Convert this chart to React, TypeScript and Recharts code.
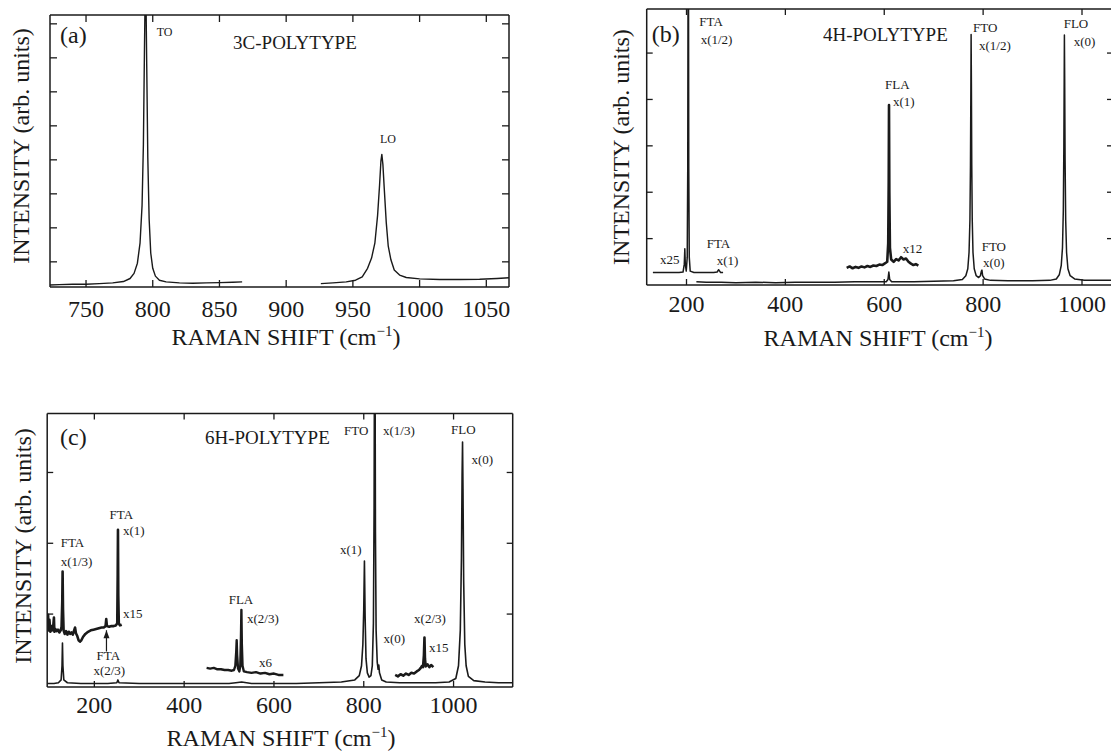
import React from 'react';
import { LineChart, Line, XAxis, YAxis } from 'recharts';

const INK = '#1a1a1a';
const SERIF = '"Liberation Serif", "Times New Roman", Times, serif';

type Pair = [number, number];
type Ann = { x: number; y: number; t: string };

// ---------------- (a) 3C-POLYTYPE ----------------
const aXTicks = [750, 800, 850, 900, 950, 1000, 1050];
const aYTicks = [0.74, 1.74, 2.74, 3.74, 4.74, 5.74, 6.74, 7.74];
const aToSegment: Pair[] = [
  [723, 0.06], [730, 0.07], [740, 0.08], [750, 0.08], [760, 0.1], [770, 0.12], [778, 0.16],
  [783, 0.25], [786, 0.4], [788.5, 0.7], [790.5, 1.3], [792, 2.4], [793, 4.2], [793.8, 7],
  [794.3, 8.6], [794.9, 8.6], [795.5, 6.5], [796.3, 3.8], [797.3, 2.0], [798.5, 1.0],
  [800, 0.55], [802, 0.32], [805, 0.2], [810, 0.15], [820, 0.12], [830, 0.11], [840, 0.12],
  [850, 0.13], [860, 0.14], [867, 0.15],
];
const aLoSegment: Pair[] = [
  [926, 0.1], [935, 0.12], [945, 0.15], [952, 0.2], [957, 0.3], [961, 0.55], [964, 0.85],
  [966.5, 1.3], [968.5, 2.1], [970, 3.0], [971, 3.7], [971.7, 3.9], [972.5, 3.6], [973.5, 2.9],
  [975, 1.9], [976.5, 1.2], [978.5, 0.8], [981, 0.5], [985, 0.35], [990, 0.28], [1000, 0.24],
  [1015, 0.22], [1030, 0.22], [1045, 0.23], [1058, 0.25], [1067, 0.27],
];
const aLetter: Ann[] = [{ x: 730.5, y: 7.41, t: '(a)' }];
const aTitle: Ann[] = [{ x: 860.2, y: 7.19, t: '3C-POLYTYPE' }];
const aPeakLabels: Ann[] = [
  { x: 803, y: 7.5, t: 'TO' },
  { x: 970.3, y: 4.35, t: 'LO' },
];

// ---------------- (b) 4H-POLYTYPE ----------------
const bXTicks = [200, 400, 600, 800, 1000];
const bYTicks = [1, 2, 3, 4, 5];
const bMain: Pair[] = [
  [220, 0.07], [240, 0.06], [270, 0.06], [300, 0.05], [340, 0.06], [380, 0.05], [420, 0.06],
  [460, 0.06], [500, 0.06], [540, 0.07], [580, 0.07], [604, 0.07], [607.5, 0.12], [609.3, 0.28],
  [611, 0.12], [615, 0.07], [660, 0.07], [700, 0.08], [740, 0.09], [758, 0.12], [765, 0.2],
  [769, 0.35], [771.5, 0.7], [773.3, 1.4], [774.4, 2.6], [775.2, 4.2], [775.7, 5.4], [776.3, 4.3],
  [777, 2.6], [778, 1.4], [779.5, 0.7], [782, 0.35], [786, 0.2], [791, 0.16], [794.5, 0.2],
  [796.5, 0.3], [797.6, 0.32], [799, 0.2], [803, 0.13], [815, 0.1], [850, 0.09], [900, 0.09],
  [935, 0.1], [948, 0.13], [954, 0.22], [958, 0.42], [960.5, 0.8], [962.2, 1.6], [963.3, 3.0],
  [964, 4.5], [964.4, 5.39], [965, 4.4], [965.8, 2.7], [967, 1.4], [968.8, 0.7], [971.5, 0.35],
  [976, 0.2], [985, 0.13], [1005, 0.1], [1030, 0.1], [1062, 0.1],
];
const bX25: Pair[] = [
  [132, 0.27], [150, 0.27], [170, 0.27], [185, 0.27], [193, 0.28], [195.5, 0.45], [196.6, 0.78],
  [197.6, 0.45], [199.5, 0.3], [201.5, 0.6], [202.5, 2.5], [203.2, 7], [204, 7], [204.6, 2.5],
  [205.6, 0.6], [207.5, 0.3], [215, 0.27], [235, 0.27], [255, 0.27], [262, 0.28], [265, 0.33],
  [267, 0.3], [269, 0.27], [274, 0.27],
];
const bX12: Pair[] = [
  [524, 0.37], [530, 0.4], [536, 0.36], [542, 0.39], [548, 0.37], [554, 0.4], [560, 0.38],
  [566, 0.41], [572, 0.39], [578, 0.42], [584, 0.41], [590, 0.44], [596, 0.43], [602, 0.47],
  [606, 0.5], [608, 0.9], [609, 2.2], [609.6, 3.88], [610.3, 2.0], [611.5, 0.8], [614, 0.55],
  [619, 0.5], [624, 0.56], [629, 0.53], [634, 0.6], [639, 0.55], [644, 0.57], [649, 0.5],
  [654, 0.46], [659, 0.43], [664, 0.45], [669, 0.42],
];
const bLetter: Ann[] = [{ x: 129.6, y: 5.41, t: '(b)' }];
const bTitle: Ann[] = [{ x: 476.1, y: 5.41, t: '4H-POLYTYPE' }];
const bPeakLabels: Ann[] = [
  { x: 225.9, y: 5.67, t: 'FTA' }, { x: 228.7, y: 5.3, t: 'x(1/2)' },
  { x: 779.5, y: 5.55, t: 'FTO' }, { x: 791.6, y: 5.16, t: 'x(1/2)' },
  { x: 963, y: 5.64, t: 'FLO' }, { x: 983.3, y: 5.25, t: 'x(0)' },
  { x: 601.5, y: 4.31, t: 'FLA' }, { x: 617.7, y: 3.95, t: 'x(1)' },
  { x: 637.3, y: 0.79, t: 'x12' },
  { x: 797.1, y: 0.83, t: 'FTO' }, { x: 799.7, y: 0.48, t: 'x(0)' },
  { x: 146.4, y: 0.54, t: 'x25' },
  { x: 240.9, y: 0.9, t: 'FTA' }, { x: 261.1, y: 0.53, t: 'x(1)' },
];

// ---------------- (c) 6H-POLYTYPE ----------------
const cXTicks = [200, 400, 600, 800, 1000];
const cYTicks = [1.03, 2.03, 3.03];
const cMain: Pair[] = [
  [95, 0.05], [110, 0.05], [120, 0.06], [126, 0.1], [128, 0.3], [129, 0.62], [130, 0.3],
  [132, 0.1], [140, 0.06], [170, 0.05], [200, 0.05], [230, 0.05], [250, 0.06], [252.5, 0.1],
  [255, 0.06], [300, 0.05], [350, 0.05], [400, 0.05], [450, 0.05], [500, 0.05], [515, 0.06],
  [528, 0.07], [550, 0.05], [600, 0.05], [650, 0.05], [700, 0.06], [750, 0.07], [780, 0.1],
  [790, 0.16], [795, 0.3], [798, 0.6], [800, 1.1], [801.5, 1.78], [803, 1.0], [805, 0.4],
  [808, 0.2], [812, 0.14], [816, 0.16], [819, 0.3], [821.5, 0.9], [823, 2.5], [824, 5],
  [825, 5], [826, 2.2], [827.5, 0.8], [830, 0.35], [832, 0.25], [833.5, 0.31], [835, 0.2],
  [840, 0.1], [850, 0.07], [880, 0.06], [920, 0.06], [960, 0.06], [990, 0.07], [1005, 0.12],
  [1011, 0.3], [1015, 0.8], [1017.5, 1.8], [1019, 3.0], [1020, 3.46], [1021, 2.8], [1022.5, 1.5],
  [1025, 0.6], [1028, 0.3], [1033, 0.15], [1045, 0.09], [1070, 0.07], [1100, 0.06], [1131, 0.06],
];
const cX15Left: Pair[] = [
  [95, 0.95], [97, 1.02], [98, 0.8], [100, 0.95], [102, 0.78], [104, 0.86], [106, 0.8],
  [108, 0.83], [110, 0.98], [111, 0.78], [113, 0.82], [116, 0.79], [119, 0.81], [122, 0.77],
  [125, 0.8], [127, 0.85], [128.5, 1.2], [129.3, 1.63], [130.2, 1.1], [131.5, 0.8], [134, 0.75],
  [137, 0.79], [140, 0.74], [143, 0.78], [146, 0.75], [149, 0.77], [152, 0.74], [155, 0.8],
  [157, 0.84], [159, 0.76], [162, 0.72], [165, 0.66], [168, 0.64], [171, 0.66], [175, 0.71],
  [180, 0.75], [186, 0.78], [192, 0.8], [198, 0.81], [204, 0.82], [210, 0.83], [216, 0.84],
  [221, 0.84], [225, 0.86], [226.5, 0.96], [228, 0.86], [233, 0.85], [238, 0.86], [243, 0.86],
  [248, 0.87], [251, 0.9], [252, 1.6], [252.6, 2.22], [253.3, 1.3], [254.5, 0.9], [257, 0.87],
  [261, 0.88],
];
const cX6: Pair[] = [
  [450, 0.27], [458, 0.26], [466, 0.27], [474, 0.25], [482, 0.25], [490, 0.24], [498, 0.24],
  [506, 0.23], [511, 0.24], [514, 0.3], [516, 0.5], [517, 0.66], [518, 0.45], [520, 0.26],
  [523, 0.22], [525, 0.3], [526.5, 0.7], [527.5, 1.09], [528.5, 0.6], [530, 0.3], [533, 0.22],
  [540, 0.21], [550, 0.2], [560, 0.21], [570, 0.19], [580, 0.2], [590, 0.18], [600, 0.19],
  [610, 0.17], [621, 0.17],
];
const cX15Right: Pair[] = [
  [870, 0.17], [876, 0.15], [882, 0.18], [888, 0.16], [894, 0.19], [900, 0.17], [906, 0.2],
  [912, 0.19], [918, 0.22], [923, 0.24], [927, 0.27], [930, 0.3], [932, 0.28], [934, 0.45],
  [935.2, 0.7], [936.3, 0.4], [938, 0.29], [942, 0.32], [946, 0.28], [950, 0.31], [955, 0.28],
];
const cArrow: Pair[] = [[227, 0.5], [227, 0.8]];
const cLetter: Ann[] = [{ x: 123.5, y: 3.54, t: '(c)' }];
const cTitle: Ann[] = [{ x: 446.4, y: 3.52, t: '6H-POLYTYPE' }];
const cPeakLabels: Ann[] = [
  { x: 756, y: 3.62, t: 'FTO' }, { x: 842.9, y: 3.62, t: 'x(1/3)' },
  { x: 994.3, y: 3.63, t: 'FLO' }, { x: 1040, y: 3.21, t: 'x(0)' },
  { x: 747.1, y: 1.94, t: 'x(1)' }, { x: 844, y: 0.69, t: 'x(0)' },
  { x: 912, y: 0.96, t: 'x(2/3)' }, { x: 945.3, y: 0.56, t: 'x15' },
  { x: 499.2, y: 1.24, t: 'FLA' }, { x: 540, y: 0.96, t: 'x(2/3)' },
  { x: 566.7, y: 0.35, t: 'x6' },
  { x: 234, y: 2.44, t: 'FTA' }, { x: 263.8, y: 2.21, t: 'x(1)' },
  { x: 263.8, y: 1.03, t: 'x15' },
  { x: 125, y: 2.04, t: 'FTA' }, { x: 125, y: 1.77, t: 'x(1/3)' },
  { x: 205, y: 0.44, t: 'FTA' }, { x: 197.9, y: 0.23, t: 'x(2/3)' },
];

// ---------------- rendering helpers ----------------
const toPts = (a: Pair[]) => a.map(([x, y]) => ({ x, y }));

const XTick = (p: any) => {
  const { x, y, payload, len, sgn, lab, ldy } = p;
  return (
    <g>
      <line x1={x} y1={y} x2={x} y2={y + sgn * len} stroke={INK} strokeWidth={1.3} />
      {lab ? (
        <text x={x} y={y + ldy} textAnchor="middle" fontSize={24} fontFamily={SERIF} fill={INK}>
          {payload.value}
        </text>
      ) : null}
    </g>
  );
};

const YTick = (p: any) => {
  const { x, y, len, sgn } = p;
  return <line x1={x} y1={y} x2={x + sgn * len} y2={y} stroke={INK} strokeWidth={1.3} />;
};

const annDot = (size: number) => (p: any) => {
  const { cx, cy, payload, index } = p;
  if (cx == null || cy == null) return <g key={`e${index}`} />;
  return (
    <text key={`a${index}`} x={cx} y={cy} dy={size * 0.34} fontSize={size} fontFamily={SERIF} fill={INK}>
      {payload.t}
    </text>
  );
};

const arrowDot = (p: any) => {
  const { cx, cy, index } = p;
  if (index !== 1 || cx == null) return <g key={`ad${index}`} />;
  return <path key="arrowhead" d={`M${cx},${cy} l-3,8 l6,0 z`} fill={INK} />;
};

type Series = { data: Pair[]; w: number };
type AnnGroup = { data: Ann[]; size: number };

// plot rectangle is given; axes take 1px each, so margins are reduced by 1
function Panel(props: {
  pos: [number, number];
  size: [number, number];
  plot: { top: number; right: number; bottom: number; left: number };
  xDomain: [number, number];
  yDomain: [number, number];
  xTicks: number[];
  yTicks: number[];
  tickLen: number;
  ldy: number;
  series: Series[];
  annots: AnnGroup[];
  arrows?: Pair[][];
}) {
  const { pos, size, plot, xDomain, yDomain, xTicks, yTicks, tickLen, ldy, series, annots, arrows } = props;
  const margin = { top: plot.top - 1, right: plot.right - 1, bottom: plot.bottom - 1, left: plot.left - 1 };
  const axisLine = { stroke: INK, strokeWidth: 1.5 };
  return (
    <div style={{ position: 'absolute', left: pos[0], top: pos[1] }}>
      <LineChart width={size[0]} height={size[1]} margin={margin}>
        <XAxis xAxisId="b" orientation="bottom" type="number" dataKey="x" domain={xDomain} allowDataOverflow
          ticks={xTicks} interval={0} height={1} tickSize={0} tickMargin={0} tickLine={false} axisLine={axisLine}
          tick={<XTick len={tickLen} sgn={-1} lab ldy={ldy} />} />
        <XAxis xAxisId="t" orientation="top" type="number" dataKey="x" domain={xDomain} allowDataOverflow
          ticks={xTicks} interval={0} height={1} tickSize={0} tickMargin={0} tickLine={false} axisLine={axisLine}
          tick={<XTick len={tickLen} sgn={1} />} />
        <YAxis yAxisId="l" orientation="left" type="number" domain={yDomain} allowDataOverflow
          ticks={yTicks} interval={0} width={1} tickSize={0} tickMargin={0} tickLine={false} axisLine={axisLine}
          tick={<YTick len={tickLen} sgn={1} />} />
        <YAxis yAxisId="r" orientation="right" type="number" domain={yDomain} allowDataOverflow
          ticks={yTicks} interval={0} width={1} tickSize={0} tickMargin={0} tickLine={false} axisLine={axisLine}
          tick={<YTick len={tickLen} sgn={-1} />} />
        {series.map((s, i) => (
          <Line key={`s${i}`} xAxisId="b" yAxisId="l" data={toPts(s.data)} dataKey="y" type="linear"
            stroke={INK} strokeWidth={s.w} strokeLinejoin="round" dot={false} activeDot={false}
            isAnimationActive={false} />
        ))}
        {(arrows || []).map((a, i) => (
          <Line key={`ar${i}`} xAxisId="b" yAxisId="l" data={toPts(a)} dataKey="y" type="linear"
            stroke={INK} strokeWidth={1.2} dot={arrowDot} activeDot={false} isAnimationActive={false} />
        ))}
        {annots.map((g, i) => (
          <Line key={`n${i}`} xAxisId="b" yAxisId="l" data={g.data} dataKey="y" stroke="none"
            dot={annDot(g.size)} activeDot={false} isAnimationActive={false} />
        ))}
      </LineChart>
    </div>
  );
}

const XTitle = ({ cx, y }: { cx: number; y: number }) => (
  <text x={cx} y={y} textAnchor="middle" fontSize={24} fontFamily={SERIF} fill={INK}>
    RAMAN SHIFT (cm<tspan dy={-9} fontSize={15}>−1</tspan>
    <tspan dy={9}>)</tspan>
  </text>
);

const YTitle = ({ x, cy }: { x: number; cy: number }) => (
  <text x={x} y={cy} transform={`rotate(-90 ${x} ${cy})`} textAnchor="middle" fontSize={24}
    fontFamily={SERIF} fill={INK}>
    INTENSITY (arb. units)
  </text>
);

export default function App() {
  return (
    <div style={{ position: 'absolute', left: 0, top: 0, width: 1111, height: 752, overflow: 'hidden', background: '#fff' }}>
      <Panel
        pos={[0, 0]} size={[540, 360]} plot={{ top: 15, left: 50, right: 31, bottom: 73 }}
        xDomain={[723, 1067]} yDomain={[0, 8]} xTicks={aXTicks} yTicks={aYTicks} tickLen={7} ldy={30}
        series={[{ data: aToSegment, w: 1.4 }, { data: aLoSegment, w: 1.4 }]}
        annots={[{ data: aLetter, size: 24 }, { data: aTitle, size: 19 }, { data: aPeakLabels, size: 12 }]}
      />
      <Panel
        pos={[590, 0]} size={[540, 360]} plot={{ top: 9, left: 56.7, right: 17, bottom: 75 }}
        xDomain={[119.5, 1062.7]} yDomain={[0, 5.95]} xTicks={bXTicks} yTicks={bYTicks} tickLen={6} ldy={27}
        series={[{ data: bMain, w: 1.5 }, { data: bX25, w: 1.5 }, { data: bX12, w: 2.6 }]}
        annots={[{ data: bLetter, size: 24 }, { data: bTitle, size: 19 }, { data: bPeakLabels, size: 13 }]}
      />
      <Panel
        pos={[0, 390]} size={[540, 362]} plot={{ top: 23.5, left: 47.2, right: 27.3, bottom: 65 }}
        xDomain={[95, 1131.7]} yDomain={[0, 3.863]} xTicks={cXTicks} yTicks={cYTicks} tickLen={6} ldy={26}
        series={[
          { data: cMain, w: 1.6 },
          { data: cX15Left, w: 2.6 },
          { data: cX6, w: 2.4 },
          { data: cX15Right, w: 2.6 },
        ]}
        arrows={[cArrow]}
        annots={[{ data: cLetter, size: 24 }, { data: cTitle, size: 19 }, { data: cPeakLabels, size: 13 }]}
      />
      <svg width={1111} height={752} style={{ position: 'absolute', left: 0, top: 0, pointerEvents: 'none' }}>
        <XTitle cx={286} y={345} />
        <XTitle cx={878} y={346} />
        <XTitle cx={281} y={746} />
        <YTitle x={29} cy={146} />
        <YTitle x={629} cy={147} />
        <YTitle x={31} cy={546} />
      </svg>
    </div>
  );
}
